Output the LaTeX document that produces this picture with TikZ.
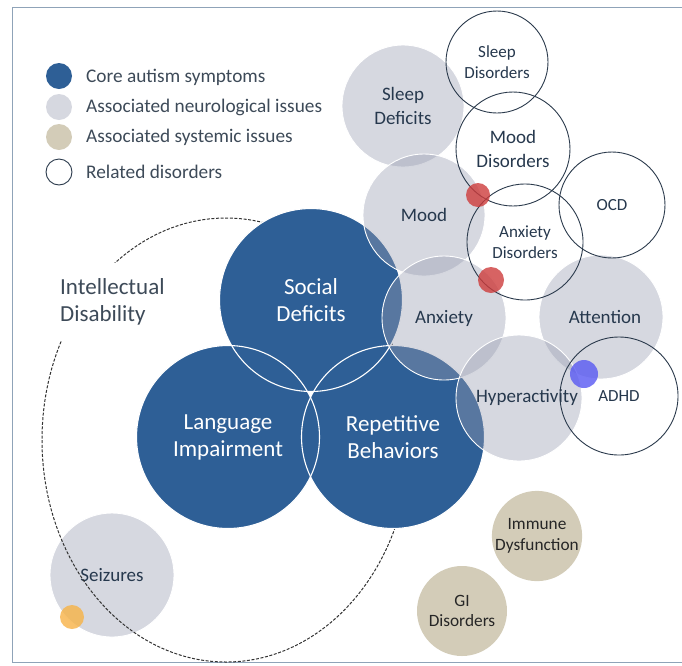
\documentclass[tikz,border=0pt]{standalone}
\usepackage{fontspec}
\setmainfont{Carlito}
\definecolor{coreblue}{HTML}{2E5F96}
\definecolor{neurogray}{RGB}{152,157,177}
\definecolor{systan}{HTML}{D3CCB8}
\definecolor{ringline}{HTML}{2B3A4C}
\definecolor{labeltxt}{HTML}{26384D}
\definecolor{legendtxt}{HTML}{3D4A58}
\definecolor{framecol}{HTML}{8FA3B8}
\definecolor{reddot}{RGB}{205,60,60}
\definecolor{bluedot}{RGB}{88,88,242}
\definecolor{orangedot}{RGB}{247,178,70}

\begin{document}
\begin{tikzpicture}[x=1pt, y=-1pt,
  core/.style={circle, fill=coreblue, inner sep=0pt, minimum size=183pt, align=center, text=white, font=\fontsize{23}{27}\selectfont},
  neuro/.style={circle, fill=neurogray, fill opacity=.4, text opacity=1, draw=white, line width=.9pt, inner sep=0pt, align=center, text=labeltxt, font=\fontsize{19}{23.5}\selectfont},
  systemic/.style={circle, fill=systan, inner sep=0pt, minimum size=90pt, align=center, text=black!85, font=\fontsize{17.3}{20.5}\selectfont},
  related/.style={circle, draw=ringline, line width=.9pt, inner sep=0pt, align=center, text=labeltxt, font=\fontsize{17}{20.5}\selectfont},
  dot/.style={circle, inner sep=0pt, fill opacity=.8},
  keytext/.style={anchor=west, inner sep=0pt, text=legendtxt, font=\fontsize{19.3}{23}\selectfont}]
  \useasboundingbox (0,0) rectangle (682,665);
  \draw[framecol, line width=1pt] (690,7) -- (12,7) -- (12,662) -- (690,662);

  % legend
  \node[circle, fill=coreblue, minimum size=26pt, inner sep=0pt] (k1) at (59,76) {};
  \node[circle, fill=neurogray, fill opacity=.4, minimum size=26pt, inner sep=0pt] (k2) at (59,107) {};
  \node[circle, fill=systan, minimum size=26pt, inner sep=0pt] (k3) at (59,137) {};
  \node[circle, draw=ringline, line width=.9pt, minimum size=26pt, inner sep=0pt] (k4) at (59,172) {};
  \node[keytext] (t1) at (86,77) {Core autism symptoms};
  \node[keytext] (t2) at (86,107) {Associated neurological issues};
  \node[keytext] (t3) at (86,137) {Associated systemic issues};
  \node[keytext] (t4) at (86,172) {Related disorders};

  % seizures and the intellectual disability ring
  \node[neuro, minimum size=124pt] (seiz) at (112,575) {Seizures};
  \draw[black!80, line width=1pt, dash pattern=on 3pt off 1.6pt] (226,440) ellipse [x radius=184pt, y radius=222pt];
  \node[anchor=west, align=left, fill=white, inner xsep=6pt, inner ysep=16pt, text=legendtxt, font=\fontsize{23}{27}\selectfont] (idtext) at (54,302) {Intellectual\\Disability};

  % core symptoms
  \node[core] (social) at (311,300) {Social\\Deficits};
  \node[core] (lang) at (228,437) {Language\\Impairment};
  \node[core] (rep) at (393,437) {Repetitive\\Behaviors};
  \foreach \c in {social,lang,rep}
    \draw[white, line width=1.1pt] (\c) circle (91.5pt);

  % neurological issues
  \node[neuro, minimum size=122pt] (sleep) at (403,106) {Sleep\\Deficits};
  \node[neuro, minimum size=122pt] (mood) at (424,215) {Mood};
  \node[neuro, minimum size=124pt] (anx) at (444,318) {Anxiety};
  \node[neuro, minimum size=124pt] (att) at (601,317) {\hspace*{8pt}Attention};
  \node[neuro, minimum size=126pt] (hyp) at (519,398) {};
  \node[inner sep=0pt, text=labeltxt, font=\fontsize{19}{23.5}\selectfont] (hyptext) at (527,397) {Hyperactivity};

  % systemic issues
  \node[systemic] (imm) at (537,536) {Immune\\Dysfunction};
  \node[systemic] (gi) at (462,611) {GI\\Disorders};

  % related disorders
  \node[related, minimum size=102pt] (sleepd) at (497,62) {Sleep\\Disorders};
  \node[related, minimum size=114pt, font=\fontsize{19}{24}\selectfont] (moodd) at (513,149) {Mood\\Disorders};
  \node[related, minimum size=116pt] (anxd) at (525,242) {Anxiety\\Disorders};
  \node[related, minimum size=106pt] (ocd) at (612,205) {OCD};
  \node[related, minimum size=118pt] (adhd) at (619,396) {ADHD};

  % markers
  \node[dot, fill=reddot, minimum size=24pt] (r1) at (478,195) {};
  \node[dot, fill=reddot, minimum size=26pt] (r2) at (491,280) {};
  \node[dot, fill=bluedot, minimum size=28pt] (b1) at (584,374) {};
  \node[dot, fill=orangedot, minimum size=24pt] (o1) at (72,617) {};
\end{tikzpicture}
\end{document}
